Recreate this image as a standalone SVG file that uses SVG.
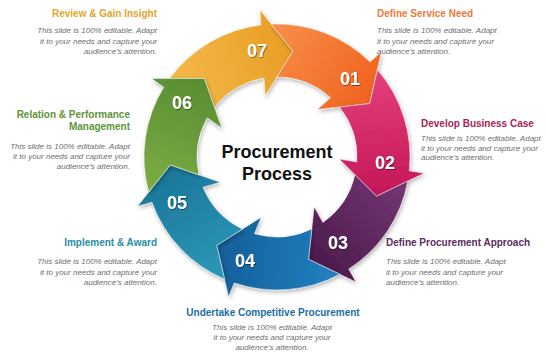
<svg xmlns="http://www.w3.org/2000/svg" width="546" height="353" viewBox="0 0 546 353">
<defs>
<style>
.num{font-family:"Liberation Sans",Arial,sans-serif;font-weight:bold;font-size:18px;fill:#fff;text-anchor:middle}
.ttl{font-family:"Liberation Sans",Arial,sans-serif;font-weight:bold;font-size:10px}
.dsc{font-family:"Liberation Sans",Arial,sans-serif;font-style:italic;font-size:8px;fill:#6e6e6e}
.ctr{font-family:"Liberation Sans",Arial,sans-serif;font-weight:bold;font-size:18px;fill:#111;text-anchor:middle}
.seg{stroke:#ffffff;stroke-opacity:0.55;stroke-width:0.8;stroke-linejoin:miter}
</style>
<filter id="sh" x="-20%" y="-20%" width="140%" height="140%">
<feDropShadow dx="1" dy="2" stdDeviation="2" flood-color="#000" flood-opacity="0.3"/>
</filter>
<filter id="tsh" x="-20%" y="-20%" width="140%" height="140%">
<feDropShadow dx="0.8" dy="1" stdDeviation="0.7" flood-color="#000" flood-opacity="0.45"/>
</filter>
<path id="seg" d="M-69.34,-39.89 L-83.65,-66.71 L-117.96,-61.45 A133,133 0 0 1 -35.65,-128.13 L-38.75,-142.74 L0,-107 L-20.89,-58.6 L-24.61,-76.12 A80,80 0 0 0 -69.34,-39.89 Z"/>
<linearGradient id="g07" gradientUnits="userSpaceOnUse" x1="-120" y1="-50" x2="0" y2="-110"><stop offset="0" stop-color="#F5BA4C"/><stop offset="1" stop-color="#E89E24"/></linearGradient>
<linearGradient id="g01" gradientUnits="userSpaceOnUse" x1="-120" y1="-50" x2="0" y2="-110"><stop offset="0" stop-color="#F7924E"/><stop offset="1" stop-color="#F1621E"/></linearGradient>
<linearGradient id="g02" gradientUnits="userSpaceOnUse" x1="-120" y1="-50" x2="0" y2="-110"><stop offset="0" stop-color="#E5437D"/><stop offset="1" stop-color="#C41658"/></linearGradient>
<linearGradient id="g03" gradientUnits="userSpaceOnUse" x1="-120" y1="-50" x2="0" y2="-110"><stop offset="0" stop-color="#773877"/><stop offset="1" stop-color="#4B1B4C"/></linearGradient>
<linearGradient id="g04" gradientUnits="userSpaceOnUse" x1="-120" y1="-50" x2="0" y2="-110"><stop offset="0" stop-color="#2382C2"/><stop offset="1" stop-color="#145E97"/></linearGradient>
<linearGradient id="g05" gradientUnits="userSpaceOnUse" x1="-120" y1="-50" x2="0" y2="-110"><stop offset="0" stop-color="#2E9BB9"/><stop offset="1" stop-color="#1A7598"/></linearGradient>
<linearGradient id="g06" gradientUnits="userSpaceOnUse" x1="-120" y1="-50" x2="0" y2="-110"><stop offset="0" stop-color="#7EAF46"/><stop offset="1" stop-color="#588C31"/></linearGradient>
</defs>
<rect width="546" height="353" fill="#ffffff"/>

<g id="step-07">
<g filter="url(#sh)"><use href="#seg" class="seg" fill="url(#g07)" transform="translate(277,157) rotate(8.6)"/></g>
<text class="num" x="257" y="56.5" filter="url(#tsh)">07</text>
<text class="ttl" x="157" y="16.5" text-anchor="end" fill="#E2A62A">Review &amp; Gain Insight</text>
<text class="dsc" text-anchor="end"><tspan x="157" y="33">This slide is 100% editable. Adapt</tspan><tspan x="157" y="43.5">it to your needs and capture your</tspan><tspan x="157" y="54">audience’s attention.</tspan></text>
</g>

<g id="step-01">
<g filter="url(#sh)"><use href="#seg" class="seg" fill="url(#g01)" transform="translate(277,157) rotate(60)"/></g>
<text class="num" x="350" y="84.5" filter="url(#tsh)">01</text>
<text class="ttl" x="377" y="16.5" fill="#EC7A3A">Define Service Need</text>
<text class="dsc"><tspan x="377" y="33">This slide is 100% editable. Adapt</tspan><tspan x="377" y="43.5">it to your needs and capture your</tspan><tspan x="377" y="54">audience’s attention.</tspan></text>
</g>

<g id="step-02">
<g filter="url(#sh)"><use href="#seg" class="seg" fill="url(#g02)" transform="translate(277,157) rotate(111.5)"/></g>
<text class="num" x="385" y="168.5" filter="url(#tsh)">02</text>
<text class="ttl" x="421" y="126.5" fill="#A82459">Develop Business Case</text>
<text class="dsc"><tspan x="421" y="141">This slide is 100% editable. Adapt</tspan><tspan x="421" y="150.5">it to your needs and capture your</tspan><tspan x="421" y="160">audience’s attention.</tspan></text>
</g>

<g id="step-03">
<g filter="url(#sh)"><use href="#seg" class="seg" fill="url(#g03)" transform="translate(277,157) rotate(162.9)"/></g>
<text class="num" x="338" y="248.5" filter="url(#tsh)">03</text>
<text class="ttl" x="386" y="245.5" fill="#5A2D5C">Define Procurement Approach</text>
<text class="dsc"><tspan x="386" y="264">This slide is 100% editable. Adapt</tspan><tspan x="386" y="275">it to your needs and capture your</tspan><tspan x="386" y="285">audience’s attention.</tspan></text>
</g>

<g id="step-04">
<g filter="url(#sh)"><use href="#seg" class="seg" fill="url(#g04)" transform="translate(277,157) rotate(214.3)"/></g>
<text class="num" x="245" y="266.5" filter="url(#tsh)">04</text>
<text class="ttl" x="273" y="315.5" text-anchor="middle" fill="#1C6EA4">Undertake Competitive Procurement</text>
<text class="dsc" text-anchor="middle"><tspan x="272" y="329.5">This slide is 100% editable. Adapt</tspan><tspan x="272" y="340">it to your needs and capture your</tspan><tspan x="272" y="350">audience’s attention.</tspan></text>
</g>

<g id="step-05">
<g filter="url(#sh)"><use href="#seg" class="seg" fill="url(#g05)" transform="translate(277,157) rotate(265.7)"/></g>
<text class="num" x="177" y="208.5" filter="url(#tsh)">05</text>
<text class="ttl" x="157" y="245.5" text-anchor="end" fill="#2A8DA8">Implement &amp; Award</text>
<text class="dsc" text-anchor="end"><tspan x="157" y="264">This slide is 100% editable. Adapt</tspan><tspan x="157" y="275">it to your needs and capture your</tspan><tspan x="157" y="284.5">audience’s attention.</tspan></text>
</g>

<g id="step-06">
<g filter="url(#sh)"><use href="#seg" class="seg" fill="url(#g06)" transform="translate(277,157) rotate(317.2)"/></g>
<text class="num" x="182" y="108.5" filter="url(#tsh)">06</text>
<text class="ttl" text-anchor="end" fill="#5F9339"><tspan x="130" y="117.5">Relation &amp; Performance</tspan><tspan x="130" y="129.5">Management</tspan></text>
<text class="dsc" text-anchor="end"><tspan x="130" y="149">This slide is 100% editable. Adapt</tspan><tspan x="130" y="159">it to your needs and capture your</tspan><tspan x="130" y="168.5">audience’s attention.</tspan></text>
</g>

<g id="center">
<text class="ctr" x="277" y="158">Procurement</text>
<text class="ctr" x="277" y="180">Process</text>
</g>
</svg>
